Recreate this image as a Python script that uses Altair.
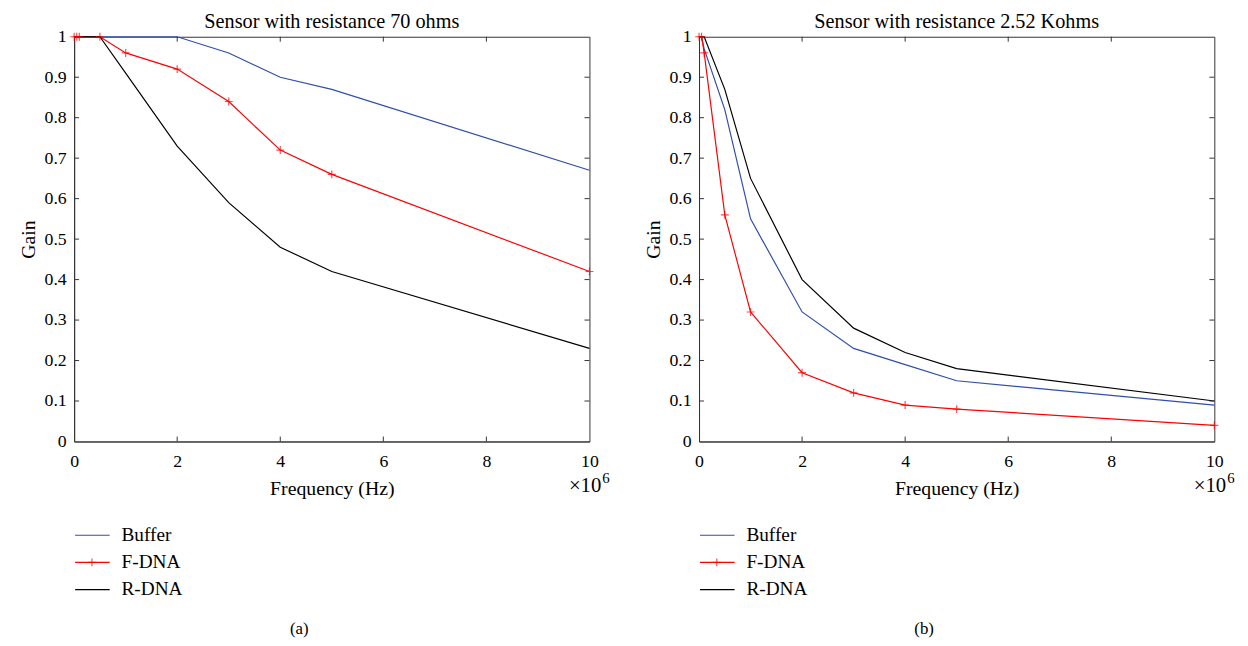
import altair as alt
import pandas as pd

# ---- data (frequency in units of 1e6 Hz) ----
freq = [0.001, 0.05, 0.1, 0.5, 1, 2, 3, 4, 5, 10]

buffer_a = [1, 1, 1, 1, 1, 1, 0.96, 0.90, 0.87, 0.67]
fdna_a = [1, 1, 1, 1, 0.96, 0.92, 0.84, 0.72, 0.66, 0.42]
rdna_a = [1, 1, 1, 1, 0.91, 0.73, 0.59, 0.48, 0.42, 0.23]

buffer_b = [1, 1, 0.97, 0.82, 0.55, 0.32, 0.23, 0.19, 0.15, 0.09]
fdna_b = [1, 1, 0.96, 0.56, 0.32, 0.17, 0.12, 0.09, 0.08, 0.04]
rdna_b = [1, 1, 1, 0.87, 0.65, 0.40, 0.28, 0.22, 0.18, 0.10]

series_names = ["Buffer", "F-DNA", "R-DNA"]
series_colors = ["#2f4fa8", "#ff0000", "#000000"]

x_ticks = [0, 2, 4, 6, 8, 10]
y_ticks = [round(i * 0.1, 1) for i in range(11)]

titles = ["Sensor with resistance 70 ohms", "Sensor with resistance 2.52 Kohms"]
captions = ["(a)", "(b)"]

FONT = "Liberation Serif"
W, H = 522, 410
CROSS = "M-1,0H1M0,-1V1"


def panel(title, buf, fd, rd, caption):
    rows = []
    for name, vals in zip(series_names, [buf, fd, rd]):
        for f, g in zip(freq, vals):
            rows.append({"freq": f, "gain": g, "series": name})
    df = pd.DataFrame(rows)

    xs = alt.Scale(domain=[0, 10], nice=False)
    ys = alt.Scale(domain=[0, 1], nice=False)
    cs = alt.Scale(domain=series_names, range=series_colors)

    base = alt.Chart(df)
    lines = base.mark_line(strokeWidth=1.2).encode(
        x=alt.X("freq:Q", scale=xs,
                axis=alt.Axis(values=x_ticks, title="Frequency (Hz)", format="d")),
        y=alt.Y("gain:Q", scale=ys,
                axis=alt.Axis(values=y_ticks, title="Gain", format="~r")),
        color=alt.Color("series:N", scale=cs, legend=None),
        detail="series:N",
    )
    pts = base.transform_filter(alt.datum.series == "F-DNA").mark_point(
        shape=CROSS, filled=False, strokeWidth=1.2, size=64, color="#ff0000"
    ).encode(x=alt.X("freq:Q", scale=xs), y=alt.Y("gain:Q", scale=ys))

    # inward ticks on all four sides
    xt = alt.Chart(pd.DataFrame({"t": x_ticks[1:-1]}))
    yt = alt.Chart(pd.DataFrame({"t": y_ticks[1:-1]}))
    tk = dict(color="#333333", strokeWidth=1)
    ticks = [
        xt.mark_rule(**tk).encode(x=alt.X("t:Q", scale=xs), y=alt.value(H), y2=alt.value(H - 5)),
        xt.mark_rule(**tk).encode(x=alt.X("t:Q", scale=xs), y=alt.value(0), y2=alt.value(5)),
        yt.mark_rule(**tk).encode(y=alt.Y("t:Q", scale=ys), x=alt.value(0), x2=alt.value(5)),
        yt.mark_rule(**tk).encode(y=alt.Y("t:Q", scale=ys), x=alt.value(W), x2=alt.value(W - 5)),
    ]

    # multiplier label
    one = alt.Chart(pd.DataFrame({"a": [0]}))
    mult = [
        one.mark_text(text="×10", font=FONT, fontSize=21, align="right", baseline="alphabetic").encode(
            x=alt.value(W + 12), y=alt.value(H + 51)),
        one.mark_text(text="6", font=FONT, fontSize=15, align="left", baseline="alphabetic").encode(
            x=alt.value(W + 13), y=alt.value(H + 42)),
    ]

    # legend below plot
    leg = []
    for i, (name, col) in enumerate(zip(series_names, series_colors)):
        yy = H + 95 + i * 27.5
        leg.append(one.mark_rule(color=col, strokeWidth=1.2).encode(
            x=alt.value(1), x2=alt.value(36), y=alt.value(yy)))
        leg.append(one.mark_text(text=name, font=FONT, fontSize=19.5, align="left", baseline="middle").encode(
            x=alt.value(48), y=alt.value(yy)))
        if name == "F-DNA":
            leg.append(one.mark_point(shape=CROSS, filled=False, strokeWidth=1.2, size=64, color=col).encode(
                x=alt.value(18), y=alt.value(yy)))

    cap = one.mark_text(text=caption, font=FONT, fontSize=17, align="center", baseline="middle").encode(
        x=alt.value(W / 2 - 33), y=alt.value(H + 190))

    return alt.layer(lines, pts, *ticks, *mult, *leg, cap).properties(
        width=W, height=H,
        title=alt.TitleParams(title, font=FONT, fontSize=20.5, fontWeight="normal", color="black", offset=-5),
    )


left = panel(titles[0], buffer_a, fdna_a, rdna_a, captions[0])
right = panel(titles[1], buffer_b, fdna_b, rdna_b, captions[1])

chart = alt.hconcat(left, right, spacing=33).properties(
    padding={"left": 10, "top": 0, "right": 5, "bottom": 0},
    background="white",
).configure_view(stroke="#333333", strokeWidth=1).configure_axis(
    domainColor="#333333", domainWidth=1, ticks=False, grid=False, labelFlush=False,
    labelFont=FONT, labelFontSize=18, labelColor="black",
    titleFont=FONT, titleFontSize=20, titleFontWeight="normal", titleColor="black",
).configure_axisX(titlePadding=9, labelPadding=11).configure_axisY(titlePadding=6, labelPadding=8)

chart.save("out.html", embed_options={"renderer": "svg", "actions": False})
